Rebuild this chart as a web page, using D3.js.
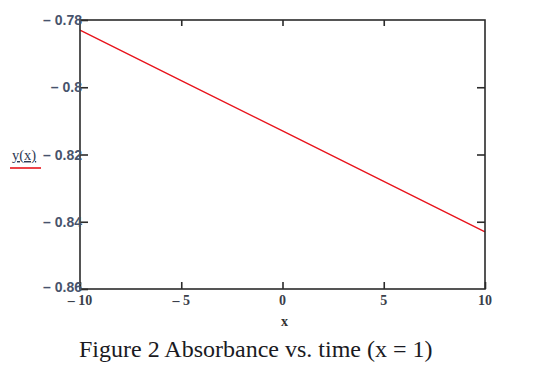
<!DOCTYPE html>
<html>
<head>
<meta charset="utf-8">
<script src="https://cdn.jsdelivr.net/npm/d3@7"></script>
<style>
  body { margin: 0; background: #fff; }
  svg { display: block; }
</style>
</head>
<body>
<div class="chart"></div>
<script>
// values
const xValues = [-10, -5, 0, 5, 10];
const yValues = [-0.783, -0.798, -0.813, -0.828, -0.843];
const xTicks = [-10, -5, 0, 5, 10];
const yTicks = [-0.78, -0.8, -0.82, -0.84, -0.86];
const yTickLabels = ['\u2013 0.78', '\u2013 0.8', '\u2013 0.82', '\u2013 0.84', '\u2013 0.86'];
const xTickLabels = ['\u2013 10', '\u2013 5', '0', '5', '10'];

const W = 552, H = 378;
const plotL = 80, plotR = 485, plotT = 20, plotB = 289;

const svg = d3.select('.chart').append('svg')
  .attr('width', W).attr('height', H);

const x = d3.scaleLinear().domain([-10, 10]).range([plotL, plotR]);
const y = d3.scaleLinear().domain([-0.78, -0.86]).range([plotT, plotB]);

// the series
const pts = xValues.map((v, i) => [v, yValues[i]]);
svg.append('path')
  .datum(pts)
  .attr('fill', 'none')
  .attr('stroke', '#e8141c')
  .attr('stroke-width', 1.4)
  .attr('d', d3.line().x(d => x(d[0])).y(d => y(d[1])));

// frame
svg.append('rect')
  .attr('x', plotL).attr('y', plotT)
  .attr('width', plotR - plotL).attr('height', plotB - plotT)
  .attr('fill', 'none').attr('stroke', '#2b2b2b').attr('stroke-width', 1.6);

// ticks pointing inwards on all four sides
const tk = '#2b2b2b';
svg.append('g').attr('transform', `translate(0,${plotB})`)
  .call(d3.axisBottom(x).tickValues(xTicks).tickSize(-7).tickFormat(''))
  .call(g => g.select('.domain').remove())
  .call(g => g.selectAll('line').attr('stroke', tk).attr('stroke-width', 1.6));
svg.append('g').attr('transform', `translate(0,${plotT})`)
  .call(d3.axisTop(x).tickValues(xTicks.slice(1, -1)).tickSize(-6).tickFormat(''))
  .call(g => g.select('.domain').remove())
  .call(g => g.selectAll('line').attr('stroke', tk).attr('stroke-width', 1.6));
svg.append('g').attr('transform', `translate(${plotL},0)`)
  .call(d3.axisLeft(y).tickValues(yTicks).tickSize(-8).tickFormat(''))
  .call(g => g.select('.domain').remove())
  .call(g => g.selectAll('line').attr('stroke', tk).attr('stroke-width', 1.6));
svg.append('g').attr('transform', `translate(${plotR},0)`)
  .call(d3.axisRight(y).tickValues(yTicks.slice(1, -1)).tickSize(-8).tickFormat(''))
  .call(g => g.select('.domain').remove())
  .call(g => g.selectAll('line').attr('stroke', tk).attr('stroke-width', 1.6));

// y tick labels
svg.append('g').selectAll('text')
  .data(yTicks)
  .join('text')
  .attr('x', plotL + 2)
  .attr('y', (d, i) => y(d) + (i === yTicks.length - 1 ? 3 : 5))
  .attr('text-anchor', 'end')
  .attr('font-family', 'Liberation Sans, Arial, sans-serif')
  .attr('font-size', 14)
  .attr('font-weight', 'bold')
  .attr('fill', '#47536c')
  .text((d, i) => yTickLabels[i]);

// x tick labels
svg.append('g').selectAll('text')
  .data(xTicks)
  .join('text')
  .attr('x', d => x(d))
  .attr('y', plotB + 16)
  .attr('text-anchor', 'middle')
  .attr('font-family', 'Liberation Serif, Times New Roman, serif')
  .attr('font-size', 14)
  .attr('font-weight', 'bold')
  .attr('fill', '#3a3f4a')
  .text((d, i) => xTickLabels[i]);

// axis titles
svg.append('text')
  .attr('x', x(0) + 2).attr('y', plotB + 37)
  .attr('text-anchor', 'middle')
  .attr('font-family', 'Liberation Serif, serif')
  .attr('font-size', 14).attr('font-weight', 'bold')
  .attr('fill', '#333')
  .text('x');

svg.append('text')
  .attr('x', 12).attr('y', 160)
  .attr('font-family', 'Liberation Serif, serif')
  .attr('font-size', 14.5)
  .attr('fill', '#2e3a55')
  .attr('text-decoration', 'underline')
  .text('y(x)');
svg.append('line')
  .attr('x1', 10).attr('x2', 41)
  .attr('y1', 168).attr('y2', 168)
  .attr('stroke', '#e8141c').attr('stroke-width', 1.6);

// caption
svg.append('text')
  .attr('x', 79).attr('y', 357)
  .attr('font-family', 'Liberation Serif, serif')
  .attr('font-size', 24)
  .attr('fill', '#1a1a22')
  .text('Figure 2 Absorbance vs. time (x = 1)');
</script>
</body>
</html>
